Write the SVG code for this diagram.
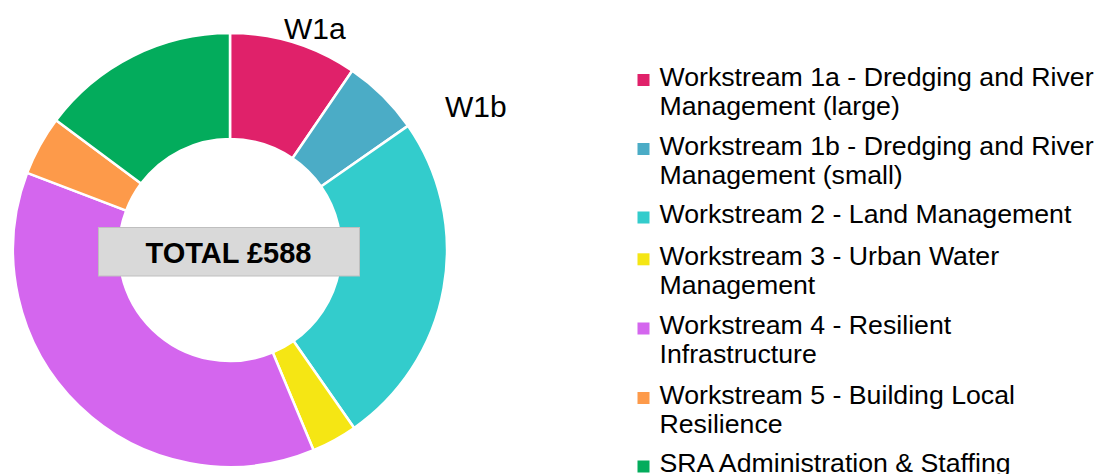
<svg xmlns="http://www.w3.org/2000/svg" width="1098" height="474" viewBox="0 0 1098 474">
<style>
.seg{stroke:#ffffff;stroke-width:2.5;stroke-linejoin:miter}
.lbl{font-family:"Liberation Sans",Arial,sans-serif;fill:#000000}
.leg{font-family:"Liberation Sans",Arial,sans-serif;font-size:26.7px;fill:#000000}
</style>
<rect width="1098" height="474" fill="#ffffff"/>
<g id="donut">
<g id="seg-w1a"><path class="seg" fill="#E0216A" d="M230,33 A217,217 0 0 1 352.24,70.71 L292.53,158.29 A111,111 0 0 0 230,139 Z"/></g>
<g id="seg-w1b"><path class="seg" fill="#4BACC6" d="M352.24,70.71 A217,217 0 0 1 407.98,125.85 L321.04,186.5 A111,111 0 0 0 292.53,158.29 Z"/></g>
<g id="seg-w2"><path class="seg" fill="#33CCCC" d="M407.98,125.85 A217,217 0 0 1 354.15,427.98 L293.5,341.04 A111,111 0 0 0 321.04,186.5 Z"/></g>
<g id="seg-w3"><path class="seg" fill="#F5E614" d="M354.15,427.98 A217,217 0 0 1 313.58,450.26 L272.75,352.44 A111,111 0 0 0 293.5,341.04 Z"/></g>
<g id="seg-w4"><path class="seg" fill="#D466EE" d="M313.58,450.26 A217,217 0 0 1 27.16,172.88 L126.25,210.55 A111,111 0 0 0 272.75,352.44 Z"/></g>
<g id="seg-w5"><path class="seg" fill="#FD9A4A" d="M27.16,172.88 A217,217 0 0 1 56.09,120.21 L141.04,183.61 A111,111 0 0 0 126.25,210.55 Z"/></g>
<g id="seg-sra"><path class="seg" fill="#03AC5C" d="M56.09,120.21 A217,217 0 0 1 230,33 L230,139 A111,111 0 0 0 141.04,183.61 Z"/></g>
</g>
<g id="total">
<rect x="98.5" y="227.5" width="261" height="48.5" fill="#D9D9D9" stroke="#BFBFBF" stroke-width="1"/>
<text class="lbl" x="228.5" y="263.3" font-size="29" font-weight="bold" text-anchor="middle">TOTAL £588</text>
</g>
<g id="label-w1a"><text class="lbl" x="284" y="38.5" font-size="30">W1a</text></g>
<g id="label-w1b"><text class="lbl" x="445" y="116.5" font-size="30">W1b</text></g>
<g id="legend">
<g id="leg-w1a"><rect x="637.5" y="74" width="12" height="12" fill="#E0216A"/><text class="leg" x="659.5" y="85.5">Workstream 1a - Dredging and River</text><text class="leg" x="659.5" y="114.5">Management (large)</text></g>
<g id="leg-w1b"><rect x="637.5" y="143" width="12" height="12" fill="#4BACC6"/><text class="leg" x="659.5" y="154.5">Workstream 1b - Dredging and River</text><text class="leg" x="659.5" y="183.5">Management (small)</text></g>
<g id="leg-w2"><rect x="637.5" y="211.5" width="12" height="12" fill="#33CCCC"/><text class="leg" x="659.5" y="222.7">Workstream 2 - Land Management</text></g>
<g id="leg-w3"><rect x="637.5" y="253.3" width="12" height="12" fill="#F5E614"/><text class="leg" x="659.5" y="265">Workstream 3 - Urban Water</text><text class="leg" x="659.5" y="294">Management</text></g>
<g id="leg-w4"><rect x="637.5" y="322.5" width="12" height="12" fill="#D466EE"/><text class="leg" x="659.5" y="334">Workstream 4 - Resilient</text><text class="leg" x="659.5" y="363">Infrastructure</text></g>
<g id="leg-w5"><rect x="637.5" y="392" width="12" height="12" fill="#FD9A4A"/><text class="leg" x="659.5" y="404">Workstream 5 - Building Local</text><text class="leg" x="659.5" y="432.5">Resilience</text></g>
<g id="leg-sra"><rect x="637.5" y="460.5" width="12" height="12" fill="#03AC5C"/><text class="leg" x="659.5" y="472">SRA Administration &amp; Staffing</text></g>
</g>
</svg>
